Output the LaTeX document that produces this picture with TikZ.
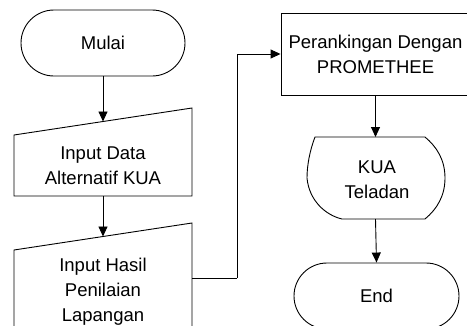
\documentclass[tikz,border=0pt]{standalone}
\usepackage{fontspec}
\setmainfont{Liberation Sans}
\usetikzlibrary{shapes.misc,arrows.meta}
\begin{document}
\begin{tikzpicture}[x=1pt,y=-1pt,
  every node/.style={font=\fontsize{18.5}{25}\selectfont, align=center, inner sep=0pt},
  shapeline/.style={draw=black, line width=0.9pt},
  terminal/.style={shapeline, rounded rectangle, minimum width=164pt, minimum height=66pt},
  procbox/.style={shapeline, rectangle, minimum width=189pt, minimum height=82pt},
  arr/.style={draw=black, line width=0.9pt, -{Triangle[length=10pt,width=9pt]}},
  conn/.style={draw=black, line width=0.9pt}]
\useasboundingbox (0,0) rectangle (467,325);
\clip (0,0) rectangle (467,325);

% Start
\node[terminal] (mulai) at (103,43) {Mulai};

% Input 1 (manual input)
\draw[shapeline] (14,135) -- (192,108) -- (192,196) -- (14,196) -- cycle;
\node (in1) at (103,166) {Input Data\\Alternatif KUA};
\coordinate (in1top) at (103,121.5);
\coordinate (in1bot) at (103,196);

% Input 2 (manual input)
\draw[shapeline] (14,345) -- (14,250) -- (192,223) -- (192,345);
\node (in2) at (103,292) {Input Hasil\\Penilaian\\Lapangan};
\coordinate (in2top) at (103,236.5);
\coordinate (in2out) at (192,278);
\coordinate (bend) at (237,278);

% Process
\node[procbox] (rank) at (375.5,54) {Perankingan Dengan\\PROMETHEE};

% Display
\draw[shapeline] (315,137) -- (425,137)
  .. controls (437,147) and (445,160) .. (445,178)
  .. controls (445,196) and (437,209) .. (425,219)
  -- (342,219)
  .. controls (325,215) and (309,200) .. (307,178)
  .. controls (307,165) and (310,150) .. (315,137) -- cycle;
\node (kua) at (377,180) {KUA\\Teladan};
\coordinate (kuatop) at (375.5,137);
\coordinate (kuabot) at (375.5,219);

% End
\node[terminal, minimum width=165pt] (end) at (376.5,296) {End};

% Connectors
\draw[arr] (mulai.south) -- (in1top);
\draw[arr] (in1bot) -- (in2top);
\draw[conn] (in2out) -- (bend);
\draw[arr] (bend) |- (rank.west);
\draw[arr] (rank.south) -- (kuatop);
\draw[arr] (kuabot) -- (end.north);
\end{tikzpicture}
\end{document}
